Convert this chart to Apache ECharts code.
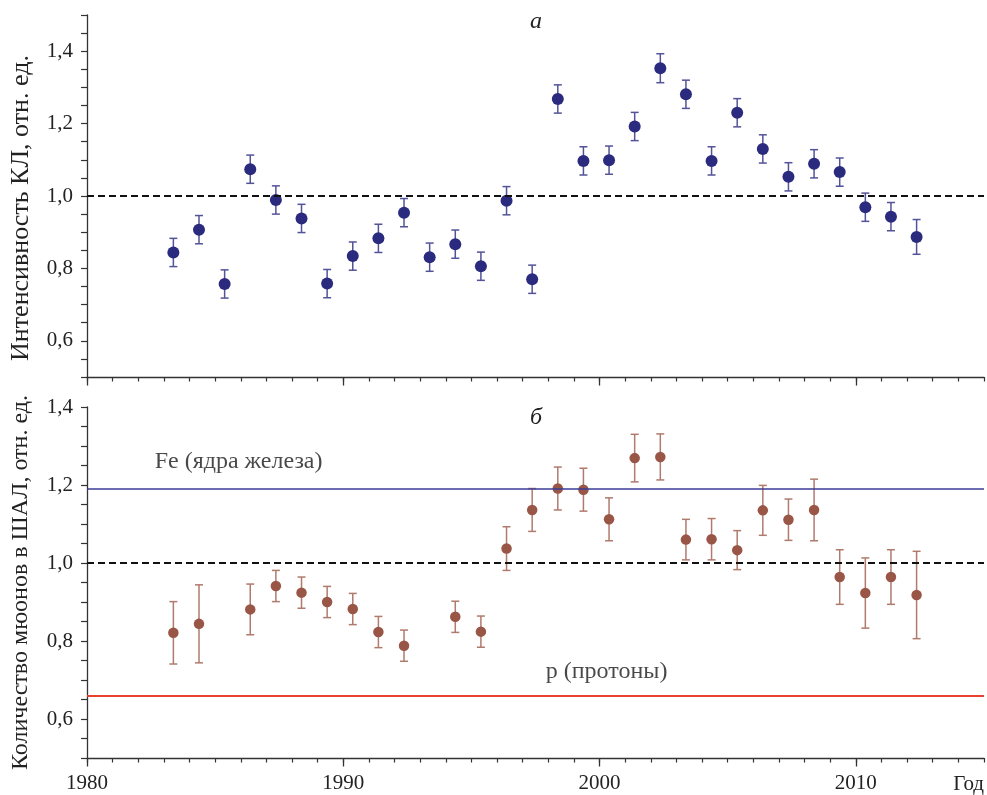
<!DOCTYPE html>
<html><head><meta charset="utf-8">
<script src="https://cdn.jsdelivr.net/npm/echarts@6/dist/echarts.min.js"></script>
<style>html,body{margin:0;padding:0;background:#fff}#c{width:987px;height:795px}</style>
</head><body><div id="c"></div>
<script>
// ---- data ----
const yearsTop = [1983,1984,1985,1986,1987,1988,1989,1990,1991,1992,1993,1994,1995,1996,1997,1998,1999,2000,2001,2002,2003,2004,2005,2006,2007,2008,2009,2010,2011,2012];
const valuesTop = [0.844,0.907,0.757,1.074,0.989,0.938,0.758,0.834,0.883,0.954,0.831,0.867,0.806,0.987,0.770,1.268,1.097,1.099,1.192,1.353,1.281,1.097,1.230,1.130,1.053,1.089,1.066,0.969,0.943,0.887];
const errorsTop = [0.039,0.039,0.039,0.039,0.039,0.039,0.039,0.039,0.039,0.039,0.039,0.039,0.039,0.039,0.039,0.039,0.039,0.039,0.039,0.040,0.039,0.039,0.039,0.039,0.039,0.039,0.039,0.039,0.039,0.048];

const yearsBottom = [1983,1984,1986,1987,1988,1989,1990,1991,1992,1994,1995,1996,1997,1998,1999,2000,2001,2002,2003,2004,2005,2006,2007,2008,2009,2010,2011,2012];
const valuesBottom = [0.821,0.844,0.881,0.941,0.924,0.900,0.882,0.823,0.788,0.862,0.824,1.037,1.136,1.191,1.188,1.112,1.269,1.272,1.060,1.061,1.033,1.135,1.111,1.136,0.964,0.923,0.964,0.918];
const errorsBottom = [0.080,0.100,0.065,0.040,0.040,0.040,0.040,0.040,0.040,0.040,0.040,0.056,0.055,0.055,0.055,0.055,0.061,0.059,0.052,0.053,0.050,0.064,0.053,0.079,0.070,0.090,0.070,0.112];

const yearOffset = 0.37;          // points sit a little after each year tick
const referenceLevel = 1.0;
const feLevel = 1.188;            // Fe (ядра железа)
const pLevel = 0.655;             // p (протоны)
const xTicksMajor = [1980,1990,2000,2010];
const feLabel = {x: 1982.64, y: 1.259, text: 'Fe (ядра железа)'};
const pLabel = {x: 1997.9, y: 0.722, text: 'р (протоны)'};

// ---- chart ----
const FONT = 'Liberation Serif';
const AX = '#333';
const chart = echarts.init(document.getElementById('c'), null, {renderer: 'canvas'});

function errorBar(color) {
  return function (params, api) {
    const x = api.value(0), lo = api.value(1), hi = api.value(2);
    const a = api.coord([x, lo]), b = api.coord([x, hi]);
    const w = 4;
    const style = {stroke: color, lineWidth: 1.5};
    return {type: 'group', children: [
      {type: 'line', shape: {x1: a[0], y1: a[1], x2: b[0], y2: b[1]}, style: style},
      {type: 'line', shape: {x1: a[0] - w, y1: a[1], x2: a[0] + w, y2: a[1]}, style: style},
      {type: 'line', shape: {x1: b[0] - w, y1: b[1], x2: b[0] + w, y2: b[1]}, style: style}
    ]};
  };
}
function yLabel(v) {
  const k = Math.round(v * 100);
  if (k % 20 !== 0 || k < 60 || k > 140) return '';
  return (k / 100).toFixed(1).replace('.', ',');
}
function minorX(grid) {
  return {gridIndex: grid, type: 'value', position: 'bottom', min: 1980, max: 2015, interval: 1,
    axisLine: {show: true, lineStyle: {color: AX, width: 1.3}},
    axisTick: {show: true, length: 4.5, lineStyle: {color: AX, width: 1.2}},
    axisLabel: {show: false}, splitLine: {show: false}};
}
function majorX(grid, labels) {
  return {gridIndex: grid, type: 'value', position: 'bottom', min: 1980, max: 2015, interval: 10,
    axisLine: {show: false},
    axisTick: {show: true, length: 8.5, customValues: xTicksMajor, lineStyle: {color: AX, width: 1.3}},
    axisLabel: {show: labels, customValues: xTicksMajor, margin: 15, color: '#222', fontFamily: FONT, fontSize: 21,
      formatter: v => (v % 10 === 0 && v < 2015) ? String(v) : ''},
    splitLine: {show: false},
    name: labels ? 'Год' : '', nameLocation: 'end', nameGap: 0,
    nameTextStyle: {align: 'right', verticalAlign: 'top', padding: [16, 0, 0, 0], color: '#222', fontFamily: FONT, fontSize: 21}};
}
function yAx(grid, max, name, size, gap, pad) {
  return {gridIndex: grid, type: 'value', min: 0.5, max: max, interval: 0.05,
    axisLine: {show: true, lineStyle: {color: AX, width: 1.3}},
    axisTick: {show: true, length: 6, lineStyle: {color: AX, width: 1.2}},
    axisLabel: {formatter: yLabel, margin: 14, color: '#222', fontFamily: FONT, fontSize: 21},
    splitLine: {show: false},
    name: name, nameLocation: 'middle', nameRotate: 90, nameGap: gap,
    nameTextStyle: {color: '#222', fontFamily: FONT, fontSize: size, padding: pad}};
}

const topErr = yearsTop.map((y, i) => [y + yearOffset, valuesTop[i] - errorsTop[i], valuesTop[i] + errorsTop[i]]);
const topPts = yearsTop.map((y, i) => [y + yearOffset, valuesTop[i]]);
const botErr = yearsBottom.map((y, i) => [y + yearOffset, valuesBottom[i] - errorsBottom[i], valuesBottom[i] + errorsBottom[i]]);
const botPts = yearsBottom.map((y, i) => [y + yearOffset, valuesBottom[i]]);
const dashed = {color: '#111', width: 2, type: [7, 4]};
const textLabel = (d) => ({type: 'scatter', xAxisIndex: 2, yAxisIndex: 1, symbolSize: 0, silent: true, z: 5,
  data: [[d.x, d.y]],
  label: {show: true, position: 'right', distance: 0, formatter: d.text, color: '#1a1a1a', fontFamily: FONT, fontSize: 24}});

chart.setOption({
  animation: false,
  backgroundColor: '#fff',
  title: [
    {text: 'а', left: 525, top: 5, textStyle: {fontFamily: FONT, fontStyle: 'italic', fontWeight: 'normal', fontSize: 24, color: '#222'}},
    {text: 'б', left: 525, top: 401, textStyle: {fontFamily: FONT, fontStyle: 'italic', fontWeight: 'normal', fontSize: 24, color: '#222'}}
  ],
  grid: [
    {left: 87, right: 3, top: 15, height: 362},
    {left: 87, right: 3, top: 407, height: 353}
  ],
  xAxis: [minorX(0), majorX(0, false), minorX(1), majorX(1, true)],
  yAxis: [yAx(0, 1.5, 'Интенсивность КЛ, отн. ед.', 26, 53, [0, 24, 0, 0]), yAx(1, 1.4, 'Количество мюонов в ШАЛ, отн. ед.', 24, 54, 0)],
  series: [
    {type: 'custom', xAxisIndex: 0, yAxisIndex: 0, renderItem: errorBar('#53539a'), encode: {x: 0, y: [1, 2]}, data: topErr, z: 2},
    {type: 'scatter', xAxisIndex: 0, yAxisIndex: 0, symbolSize: 12, itemStyle: {color: '#2a2a7e', opacity: 1}, data: topPts, z: 3,
      markLine: {silent: true, symbol: 'none', label: {show: false}, lineStyle: dashed, data: [{yAxis: referenceLevel}]}},
    {type: 'custom', xAxisIndex: 2, yAxisIndex: 1, renderItem: errorBar('#b07a6d'), encode: {x: 0, y: [1, 2]}, data: botErr, z: 2},
    {type: 'scatter', xAxisIndex: 2, yAxisIndex: 1, symbolSize: 10.5, itemStyle: {color: '#995646', opacity: 1}, data: botPts, z: 3,
      markLine: {silent: true, symbol: 'none', label: {show: false}, data: [
        {yAxis: referenceLevel, lineStyle: dashed},
        {yAxis: feLevel, lineStyle: {color: '#3a3d96', width: 1.5, type: 'solid'}},
        {yAxis: pLevel, lineStyle: {color: '#e8412f', width: 2, type: 'solid'}}
      ]}},
    textLabel(feLabel),
    textLabel(pLabel)
  ]
});
</script>
</body></html>
